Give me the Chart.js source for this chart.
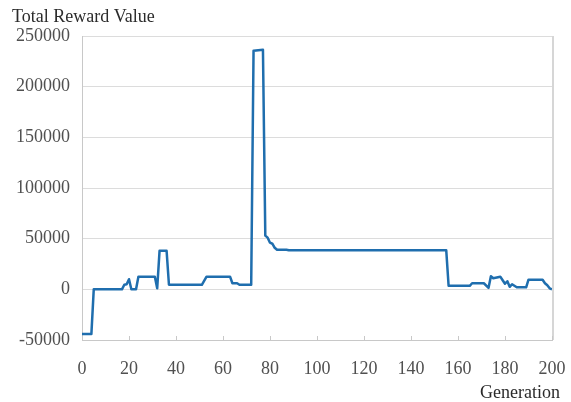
<!DOCTYPE html>
<html>
<head>
<meta charset="utf-8">
<script src="https://cdn.jsdelivr.net/npm/chart.js@4.4.0/dist/chart.umd.min.js"></script>
<style>
  html, body { margin: 0; padding: 0; background: #fff; }
</style>
</head>
<body>
<canvas id="rewardChart" width="571" height="402"></canvas>
<script>
// values
const generations = [0, 4, 5, 17, 18, 19, 20, 21, 23, 24,
  31, 32, 33, 36, 37, 51, 53, 63, 64, 66,
  67, 72, 73, 77, 78, 79, 80, 81, 82, 83,
  87, 88, 155, 156, 165, 166, 171, 173, 174, 175,
  176, 178, 179, 180, 181, 182, 183, 184, 185, 189,
  190, 196, 197, 198, 199, 200];
const rewards = [-44000, -44000, 0, 0, 4500, 5000, 10000, 0, 0, 12500,
  12500, 1000, 38000, 38000, 4500, 4500, 12500, 12500, 6000, 6000,
  4500, 4500, 235500, 236500, 53000, 51000, 46000, 45000, 41000, 39000,
  39000, 38500, 38500, 3500, 3500, 6000, 6000, 1500, 13000, 11000,
  11500, 12500, 9000, 5500, 8000, 2500, 5000, 3500, 2000, 2000,
  9500, 9500, 6000, 4000, 1000, 0];

const xTicks = [0, 20, 40, 60, 80, 100, 120, 140, 160, 180, 200];
const yTicks = [-50000, 0, 50000, 100000, 150000, 200000, 250000];

const yTitle = "Total Reward Value";
const xTitle = "Generation";

const serif = '"Liberation Serif", "DejaVu Serif", serif';

// frame, inner x ticks and the two axis titles
const extras = {
  id: "extras",
  beforeDatasetsDraw(chart) {
    const { ctx, chartArea, scales } = chart;
    ctx.save();
    ctx.strokeStyle = "#d6d6d6";
    ctx.lineWidth = 2;
    ctx.beginPath();
    ctx.moveTo(chartArea.right + 1, chartArea.top);
    ctx.lineTo(chartArea.right + 1, chartArea.bottom);
    ctx.stroke();

    ctx.strokeStyle = "#c8c8c8";
    ctx.lineWidth = 1;
    xTicks.forEach(v => {
      const x = Math.round(scales.x.getPixelForValue(v)) + 0.5;
      ctx.beginPath();
      ctx.moveTo(x, chartArea.bottom);
      ctx.lineTo(x, chartArea.bottom - 4);
      ctx.stroke();
    });
    ctx.restore();
  },
  afterDraw(chart) {
    const ctx = chart.ctx;
    ctx.save();
    ctx.font = "18px " + serif;
    ctx.fillStyle = "#2b2b2b";
    ctx.textBaseline = "middle";
    ctx.textAlign = "left";
    ctx.fillText(yTitle, 12, 17);
    ctx.textAlign = "right";
    ctx.fillText(xTitle, 560, 393);
    ctx.restore();
  }
};

function drawChart() {
  new Chart(document.getElementById("rewardChart").getContext("2d"), {
    type: "line",
    data: {
      datasets: [{
        data: generations.map((g, i) => ({ x: g, y: rewards[i] })),
        borderColor: "#1f6eae",
        borderWidth: 2.5,
        pointRadius: 0,
        tension: 0,
        borderJoinStyle: "round",
        fill: false
      }]
    },
    options: {
      responsive: false,
      animation: false,
      layout: { padding: { left: 0, right: 19, top: 36, bottom: 0 } },
      plugins: {
        legend: { display: false },
        tooltip: { enabled: false }
      },
      scales: {
        x: {
          type: "linear",
          min: 0,
          max: 200,
          afterBuildTicks: scale => { scale.ticks = xTicks.map(v => ({ value: v })); },
          afterFit: scale => {
            scale.height = 62;
            scale.paddingLeft = 0;
            scale.paddingRight = 0;
          },
          grid: { display: false },
          border: { display: true, color: "#c8c8c8", width: 1 },
          ticks: {
            padding: 10,
            maxRotation: 0,
            color: "#505050",
            font: { family: serif, size: 18 }
          }
        },
        y: {
          min: -50000,
          max: 250000,
          afterBuildTicks: scale => { scale.ticks = yTicks.map(v => ({ value: v })); },
          afterFit: scale => {
            scale.width = 82;
            scale.paddingTop = 0;
            scale.paddingBottom = 0;
          },
          grid: { color: "#dcdcdc", lineWidth: 1, drawTicks: false },
          border: { display: true, color: "#c8c8c8", width: 1 },
          ticks: {
            padding: 12,
            color: "#505050",
            font: { family: serif, size: 18 },
            callback: v => String(v)
          }
        }
      }
    },
    plugins: [extras]
  });
}

// make sure the serif face is ready before the canvas text is drawn
document.fonts.load("18px " + serif).then(drawChart, drawChart);
</script>
</body>
</html>
